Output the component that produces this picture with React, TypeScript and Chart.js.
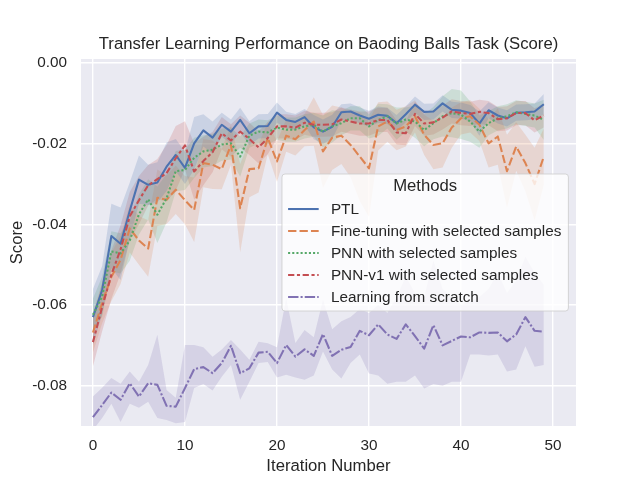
import React, { useEffect, useRef } from "react";
import { Chart, registerables } from "chart.js";

Chart.register(...registerables);

const FAMILY = '"Liberation Sans", Arial, "DejaVu Sans", sans-serif';
const TEXT = "#262626";

const chartTitle = "Transfer Learning Performance on Baoding Balls Task (Score)";
const xTitle = "Iteration Number";
const yTitle = "Score";
const legendTitle = "Methods";

const iterations = [
  0, 1, 2, 3, 4, 5, 6, 7, 8, 9, 10, 11, 12, 13, 14, 15, 16, 17, 18, 19, 20, 21, 22, 23, 24,
  25, 26, 27, 28, 29, 30, 31, 32, 33, 34, 35, 36, 37, 38, 39, 40, 41, 42, 43, 44, 45, 46, 47, 48, 49,
];

const xTickValues = [0, 10, 20, 30, 40, 50];
const yTickValues = [0, -0.02, -0.04, -0.06, -0.08];

const labels = [
  "PTL",
  "Fine-tuning with selected samples",
  "PNN with selected samples",
  "PNN-v1 with selected samples",
  "Learning from scratch",
];

const ptl = [
  -0.063, -0.0563, -0.0429, -0.0448, -0.0366, -0.0289, -0.0302, -0.0296, -0.0257, -0.0228,
  -0.026, -0.0199, -0.0167, -0.0185, -0.0153, -0.017, -0.0141, -0.0174, -0.0157, -0.0156,
  -0.0123, -0.0141, -0.0146, -0.0134, -0.0159, -0.017, -0.0158, -0.0122, -0.012, -0.013,
  -0.0138, -0.0128, -0.0131, -0.0149, -0.0127, -0.0103, -0.0121, -0.012, -0.01, -0.0116,
  -0.0118, -0.0124, -0.015, -0.0117, -0.013, -0.0137, -0.0123, -0.0122, -0.012, -0.0102,
];
const ptlHW = [
  0.007, 0.006, 0.008, 0.009, 0.007, 0.006, 0.005, 0.005, 0.006, 0.004,
  0.004, 0.0065, 0.004, 0.004, 0.003, 0.003, 0.003, 0.003, 0.003, 0.003,
  0.0025, 0.002, 0.002, 0.002, 0.003, 0.003, 0.003, 0.002, 0.002, 0.002,
  0.002, 0.002, 0.002, 0.002, 0.002, 0.002, 0.002, 0.002, 0.002, 0.002,
  0.002, 0.002, 0.003, 0.002, 0.002, 0.002, 0.002, 0.002, 0.002, 0.0025,
];

const fineTuning = [
  -0.0668, -0.0595, -0.053, -0.0488, -0.041, -0.044, -0.046, -0.0334, -0.0339, -0.0314,
  -0.034, -0.0364, -0.0248, -0.0252, -0.0263, -0.0203, -0.036, -0.0263, -0.0261, -0.0186,
  -0.0244, -0.018, -0.0189, -0.0166, -0.0145, -0.0219, -0.0185, -0.018, -0.0203, -0.0232,
  -0.0261, -0.0157, -0.0145, -0.0166, -0.0157, -0.0132, -0.0178, -0.0203, -0.0199, -0.016,
  -0.0137, -0.0132, -0.0153, -0.0199, -0.0182, -0.0268, -0.0207, -0.0248, -0.03, -0.0232,
];
const fineTuningHW = [
  0.005, 0.005, 0.006, 0.006, 0.006, 0.006, 0.007, 0.007, 0.006, 0.006,
  0.006, 0.008, 0.006, 0.006, 0.005, 0.005, 0.011, 0.007, 0.006, 0.004,
  0.005, 0.004, 0.004, 0.004, 0.006, 0.009, 0.008, 0.007, 0.008, 0.011,
  0.012, 0.006, 0.005, 0.005, 0.005, 0.004, 0.005, 0.006, 0.006, 0.005,
  0.004, 0.004, 0.004, 0.006, 0.007, 0.009, 0.006, 0.007, 0.009, 0.007,
];

const pnn = [
  -0.0624, -0.0579, -0.0467, -0.0472, -0.044, -0.0375, -0.0338, -0.0376, -0.0335, -0.0268,
  -0.0265, -0.0235, -0.0219, -0.0215, -0.0202, -0.0199, -0.0232, -0.018, -0.017, -0.0172,
  -0.016, -0.0165, -0.0165, -0.0157, -0.0153, -0.017, -0.0157, -0.0149, -0.0137, -0.0137,
  -0.0157, -0.0141, -0.0132, -0.015, -0.014, -0.0145, -0.0166, -0.0149, -0.0132, -0.0124,
  -0.0128, -0.0145, -0.017, -0.0149, -0.0137, -0.0132, -0.0122, -0.0126, -0.013, -0.0141,
];
const pnnHW = [
  0.004, 0.005, 0.005, 0.005, 0.005, 0.005, 0.005, 0.007, 0.006, 0.005,
  0.005, 0.005, 0.004, 0.004, 0.004, 0.004, 0.005, 0.003, 0.003, 0.003,
  0.003, 0.003, 0.003, 0.003, 0.003, 0.004, 0.004, 0.003, 0.003, 0.003,
  0.003, 0.004, 0.003, 0.004, 0.003, 0.004, 0.004, 0.004, 0.005, 0.006,
  0.006, 0.005, 0.004, 0.003, 0.003, 0.003, 0.003, 0.003, 0.003, 0.005,
];

const pnnV1 = [
  -0.0692, -0.0605, -0.0525, -0.0462, -0.038, -0.034, -0.0303, -0.0288, -0.0273, -0.0236,
  -0.0204, -0.0269, -0.0243, -0.0221, -0.0174, -0.0192, -0.017, -0.0188, -0.0209, -0.0186,
  -0.0157, -0.0157, -0.016, -0.0148, -0.0153, -0.0153, -0.0152, -0.014, -0.0145, -0.015,
  -0.015, -0.0141, -0.0141, -0.0172, -0.0174, -0.0126, -0.015, -0.0147, -0.0135, -0.012,
  -0.0124, -0.0126, -0.0121, -0.0124, -0.0139, -0.0137, -0.0124, -0.0124, -0.0142, -0.013,
];
const pnnV1HW = [
  0.006, 0.006, 0.006, 0.006, 0.006, 0.006, 0.005, 0.005, 0.007, 0.008,
  0.006, 0.007, 0.006, 0.005, 0.004, 0.004, 0.004, 0.004, 0.004, 0.004,
  0.003, 0.003, 0.003, 0.003, 0.003, 0.003, 0.003, 0.003, 0.003, 0.003,
  0.003, 0.003, 0.003, 0.003, 0.003, 0.003, 0.003, 0.003, 0.003, 0.003,
  0.003, 0.003, 0.003, 0.003, 0.003, 0.003, 0.003, 0.003, 0.003, 0.003,
];

const scratch = [
  -0.0878, -0.0848, -0.0817, -0.0835, -0.0794, -0.0827, -0.0794, -0.0798, -0.085, -0.0852,
  -0.0806, -0.0759, -0.0754, -0.0769, -0.0744, -0.0701, -0.0769, -0.0757, -0.0718, -0.0716,
  -0.0744, -0.0699, -0.0728, -0.071, -0.0726, -0.0672, -0.0726, -0.0711, -0.0704, -0.0664,
  -0.0675, -0.0648, -0.0673, -0.0684, -0.0648, -0.0677, -0.0708, -0.0650, -0.0700, -0.0689,
  -0.0678, -0.0680, -0.0668, -0.0669, -0.0668, -0.0690, -0.0673, -0.0630, -0.0664, -0.0666,
];
const scratchLow = [
  -0.091, -0.088, -0.0845, -0.089, -0.0845, -0.0855, -0.084, -0.088, -0.0885, -0.0893,
  -0.089, -0.0806, -0.0796, -0.0812, -0.0778, -0.0749, -0.0835, -0.079, -0.0744, -0.0741,
  -0.078, -0.0773, -0.078, -0.0785, -0.0775, -0.0715, -0.076, -0.0782, -0.0744, -0.0723,
  -0.077, -0.0775, -0.0795, -0.079, -0.079, -0.0775, -0.0807, -0.0796, -0.08, -0.079,
  -0.079, -0.0723, -0.0723, -0.0725, -0.0723, -0.0765, -0.076, -0.0702, -0.0753, -0.0749,
];
const scratchHigh = [
  -0.0827, -0.0805, -0.0781, -0.0795, -0.0765, -0.079, -0.0749, -0.0674, -0.0811, -0.083,
  -0.0699, -0.0699, -0.0705, -0.0728, -0.071, -0.0687, -0.071, -0.0736, -0.0691, -0.0695,
  -0.0705, -0.0583, -0.0694, -0.0662, -0.068, -0.0587, -0.066, -0.064, -0.063, -0.061,
  -0.062, -0.06, -0.062, -0.058, -0.053, -0.057, -0.058, -0.049, -0.056, -0.058,
  -0.06, -0.059, -0.058, -0.056, -0.052, -0.057, -0.054, -0.048, -0.052, -0.055,
];

type Series = {
  label: string;
  values: number[];
  low: number[];
  high: number[];
  rgb: string;
  dash: number[];
};

const LW = 2.08;

const series: Series[] = [
  {
    label: labels[0],
    values: ptl,
    low: ptl.map((v, i) => v - ptlHW[i]),
    high: ptl.map((v, i) => v + ptlHW[i]),
    rgb: "76,114,176",
    dash: [],
  },
  {
    label: labels[1],
    values: fineTuning,
    low: fineTuning.map((v, i) => v - fineTuningHW[i]),
    high: fineTuning.map((v, i) => v + fineTuningHW[i]),
    rgb: "221,132,82",
    dash: [4 * LW, 1.5 * LW],
  },
  {
    label: labels[2],
    values: pnn,
    low: pnn.map((v, i) => v - pnnHW[i]),
    high: pnn.map((v, i) => v + pnnHW[i]),
    rgb: "85,168,104",
    dash: [1 * LW, 1 * LW],
  },
  {
    label: labels[3],
    values: pnnV1,
    low: pnnV1.map((v, i) => v - pnnV1HW[i]),
    high: pnnV1.map((v, i) => v + pnnV1HW[i]),
    rgb: "196,78,82",
    dash: [3 * LW, 1.25 * LW, 1.5 * LW, 1.25 * LW],
  },
  {
    label: labels[4],
    values: scratch,
    low: scratchLow,
    high: scratchHigh,
    rgb: "129,114,179",
    dash: [5 * LW, 1 * LW, 1 * LW, 1 * LW],
  },
];

const toPoints = (arr: number[]) => iterations.map((x, i) => ({ x, y: arr[i] }));

function buildDatasets(): any[] {
  const ds: any[] = [];
  series.forEach((s) => {
    ds.push({
      label: s.label + " upper",
      data: toPoints(s.high),
      fill: "+1",
      backgroundColor: `rgba(${s.rgb},0.2)`,
      borderColor: "rgba(0,0,0,0)",
      borderWidth: 0,
      pointRadius: 0,
      tension: 0,
      order: 10,
    });
    ds.push({
      label: s.label + " lower",
      data: toPoints(s.low),
      fill: false,
      borderColor: "rgba(0,0,0,0)",
      borderWidth: 0,
      pointRadius: 0,
      tension: 0,
      order: 10,
    });
  });
  series.forEach((s, i) => {
    ds.push({
      label: s.label,
      data: toPoints(s.values),
      fill: false,
      borderColor: `rgb(${s.rgb})`,
      backgroundColor: `rgb(${s.rgb})`,
      borderWidth: LW,
      borderDash: s.dash,
      borderCapStyle: "butt",
      borderJoinStyle: "round",
      pointRadius: 0,
      tension: 0,
      order: 5 - i,
    });
  });
  return ds;
}

const bgPlugin = {
  id: "axesBackground",
  beforeDraw(chart: any) {
    const { ctx, chartArea: a } = chart;
    ctx.save();
    ctx.fillStyle = "#EAEAF2";
    ctx.fillRect(a.left, a.top, a.right - a.left, a.bottom - a.top);
    ctx.restore();
  },
};

const legendPlugin = {
  id: "methodsLegend",
  afterDraw(chart: any) {
    const { ctx, chartArea: a } = chart;
    ctx.save();
    const itemFont = `15.3px ${FAMILY}`;
    const titleFont = `16.7px ${FAMILY}`;
    ctx.font = itemFont;
    const maxW = Math.max(...series.map((s) => ctx.measureText(s.label).width));
    const pad = 6.1;
    const handleLen = 30.6;
    const textPad = 12.2;
    const w = pad + handleLen + textPad + maxW + pad + 1;
    const h = 137;
    const right = a.right - 7.6;
    const left = right - w;
    const top = (a.top + a.bottom) / 2 - h / 2;
    const r = 3;
    ctx.beginPath();
    ctx.moveTo(left + r, top);
    ctx.lineTo(left + w - r, top);
    ctx.arcTo(left + w, top, left + w, top + r, r);
    ctx.lineTo(left + w, top + h - r);
    ctx.arcTo(left + w, top + h, left + w - r, top + h, r);
    ctx.lineTo(left + r, top + h);
    ctx.arcTo(left, top + h, left, top + h - r, r);
    ctx.lineTo(left, top + r);
    ctx.arcTo(left, top, left + r, top, r);
    ctx.closePath();
    ctx.fillStyle = "rgba(255,255,255,0.8)";
    ctx.fill();
    ctx.strokeStyle = "rgba(204,204,204,0.8)";
    ctx.lineWidth = 1;
    ctx.stroke();

    ctx.font = titleFont;
    ctx.fillStyle = TEXT;
    ctx.textAlign = "center";
    ctx.textBaseline = "middle";
    ctx.fillText(legendTitle, left + w / 2, top + 12);

    series.forEach((s, i) => {
      const y = top + 35 + i * 22;
      ctx.strokeStyle = `rgb(${s.rgb})`;
      ctx.lineWidth = LW;
      ctx.lineCap = "butt";
      ctx.setLineDash(s.dash);
      ctx.beginPath();
      ctx.moveTo(left + pad, y);
      ctx.lineTo(left + pad + handleLen, y);
      ctx.stroke();
      ctx.setLineDash([]);
      ctx.font = itemFont;
      ctx.fillStyle = TEXT;
      ctx.textAlign = "left";
      ctx.textBaseline = "middle";
      ctx.fillText(s.label, left + pad + handleLen + textPad, y + 1);
    });
    ctx.restore();
  },
};

export default function App() {
  const ref = useRef<HTMLCanvasElement>(null);
  useEffect(() => {
    if (!ref.current) return;
    const chart = new Chart(ref.current, {
      type: "line",
      data: { datasets: buildDatasets() },
      options: {
        animation: false,
        responsive: false,
        events: [],
        layout: { padding: { left: 0, right: 64, top: 0, bottom: 0 } },
        plugins: {
          legend: { display: false },
          tooltip: { enabled: false },
          filler: { drawTime: "beforeDatasetsDraw", propagate: false },
          title: {
            display: true,
            text: chartTitle,
            fullSize: false,
            color: TEXT,
            font: { family: FAMILY, size: 16.7, weight: "normal", lineHeight: 1.2 },
            padding: { top: 34, bottom: 5 },
          },
        } as any,
        scales: {
          x: {
            type: "linear",
            min: -1.3,
            max: 52.5,
            afterBuildTicks: (axis: any) => {
              axis.ticks = xTickValues.map((v) => ({ value: v }));
            },
            afterFit: (axis: any) => {
              axis.height = 54;
            },
            grid: { color: "#ffffff", lineWidth: 1.4, drawTicks: false },
            border: { display: false },
            ticks: {
              padding: 11,
              color: TEXT,
              font: { family: FAMILY, size: 15.3, lineHeight: 1.2 },
              maxRotation: 0,
              callback: (v: any) => String(v),
            },
            title: {
              display: true,
              text: xTitle,
              color: TEXT,
              font: { family: FAMILY, size: 16.7, lineHeight: 1.2 },
              padding: { top: 0, bottom: 4 },
            },
          },
          y: {
            type: "linear",
            min: -0.09,
            max: 0.001,
            afterBuildTicks: (axis: any) => {
              axis.ticks = yTickValues.map((v) => ({ value: v }));
            },
            afterFit: (axis: any) => {
              axis.width = 81;
            },
            grid: { color: "#ffffff", lineWidth: 1.4, drawTicks: false },
            border: { display: false },
            ticks: {
              padding: 14,
              color: TEXT,
              font: { family: FAMILY, size: 15.3, lineHeight: 1.2 },
              callback: (v: any) => Number(v).toFixed(2),
            },
            title: {
              display: true,
              text: yTitle,
              color: TEXT,
              font: { family: FAMILY, size: 16.7, lineHeight: 1.2 },
              padding: { top: 7.5, bottom: 0 },
            },
          },
        },
      } as any,
      plugins: [bgPlugin, legendPlugin],
    });
    return () => chart.destroy();
  }, []);
  return (
    <div style={{ position: "absolute", left: 0, top: 0, width: 640, height: 480, background: "#ffffff" }}>
      <canvas ref={ref} width={640} height={480} style={{ width: 640, height: 480, display: "block" }} />
    </div>
  );
}
